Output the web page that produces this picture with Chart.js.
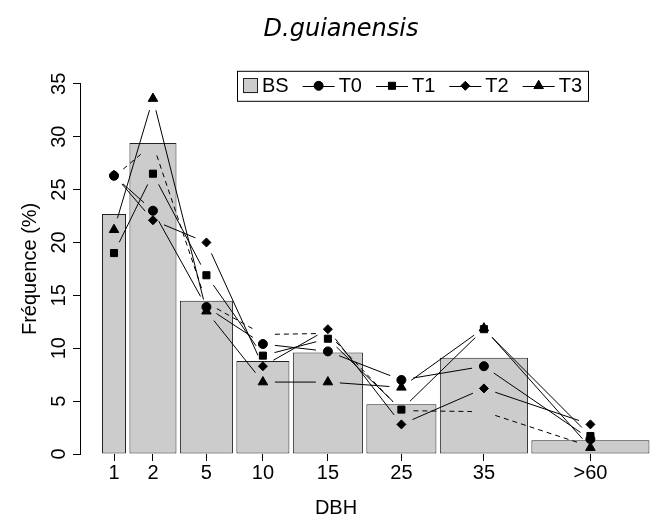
<!DOCTYPE html>
<html>
<head>
<meta charset="utf-8">
<script src="https://cdn.jsdelivr.net/npm/chart.js@4.4.1/dist/chart.umd.min.js"></script>
<style>
  html, body { margin: 0; padding: 0; background: #fff; }
</style>
</head>
<body>
<canvas id="chart" width="659" height="523"></canvas>
<script>
// DBH classes and frequencies (%)
const CLASSES = ['1', '2', '5', '10', '15', '25', '35', '>60'];
const BS = [22.7, 29.4, 14.5, 8.8, 9.6, 4.7, 9.1, 1.3];
const T0 = [26.3, 23.0, 13.9, 10.4, 9.7, 7.0, 8.3, 1.4];
const T1 = [19.0, 26.5, 16.9, 9.3, 10.9, 4.2, 11.8, 1.7];
const T2 = [26.4, 22.1, 20.0, 8.3, 11.8, 2.8, 6.2, 2.8];
const T3 = [21.2, 33.6, 13.5, 6.8, 6.8, 6.3, 11.9, 0.6];
const REF = [26.2, 29.3, 14.3, 11.3, 11.4, 4.1, 4.0, 0.7];   // dashed line, not in legend

// relative bar widths of the classes (variable width barplot)
const BIN_WIDTHS = [1, 1.96, 2.21, 2.21, 2.92, 2.92, 3.67, 4.92];
const BIN_GAP = 0.143;

const binLeft = [];
let acc = 0;
BIN_WIDTHS.forEach(w => { binLeft.push(acc); acc += w + BIN_GAP; });
const binCenter = BIN_WIDTHS.map((w, i) => binLeft[i] + w / 2);
const toPoints = vals => vals.map((v, i) => ({ x: binCenter[i], y: v }));

Chart.defaults.font.family = '"Liberation Sans", Arial, sans-serif';
Chart.defaults.color = '#000';

function lineSet(label, data, pointStyle, radius) {
    return {
        type: 'line', label, data: toPoints(data), showLine: false,
        borderColor: '#000', backgroundColor: '#000', borderWidth: 1,
        pointStyle, pointRadius: radius, pointBorderWidth: 1,
        pointBackgroundColor: '#000', pointBorderColor: '#000',
        clip: false, order: 1
    };
}

// stretch each bar to its class width
const binWidthPlugin = {
    id: 'binWidth',
    afterDatasetsUpdate(chart) {
        const xs = chart.scales.x;
        chart.getDatasetMeta(0).data.forEach((bar, i) => {
            const l = xs.getPixelForValue(binLeft[i]);
            const r = xs.getPixelForValue(binLeft[i] + BIN_WIDTHS[i]);
            bar.x = (l + r) / 2;
            bar.width = r - l;
        });
    }
};

// R type = "b": segments between points, stopped short of each point
const gappedLines = {
    id: 'gappedLines',
    afterDatasetsDraw(chart) {
        const ctx = chart.ctx;
        const gap = 12;
        ctx.save();
        ctx.strokeStyle = '#000';
        ctx.lineWidth = 1;
        chart.data.datasets.forEach((d, di) => {
            if (d.type !== 'line') return;
            const pts = chart.getDatasetMeta(di).data;
            ctx.setLineDash(d.borderDash || []);
            for (let i = 1; i < pts.length; i++) {
                const a = pts[i - 1], b = pts[i];
                const dx = b.x - a.x, dy = b.y - a.y;
                const len = Math.hypot(dx, dy);
                if (len <= 2 * gap) continue;
                const ux = dx / len, uy = dy / len;
                ctx.beginPath();
                ctx.moveTo(a.x + ux * gap, a.y + uy * gap);
                ctx.lineTo(b.x - ux * gap, b.y - uy * gap);
                ctx.stroke();
            }
        });
        ctx.restore();
    }
};

// boxed horizontal legend drawn inside the plot, like R's legend(horiz = TRUE)
const boxLegend = {
    id: 'boxLegend',
    afterDraw(chart) {
        const { ctx, chartArea } = chart;
        const sets = chart.data.datasets.filter(d => d.label);
        ctx.save();
        ctx.font = '20px "Liberation Sans", Arial, sans-serif';
        ctx.textBaseline = 'middle';
        const pad = 6, sq = 15, seg = 32, gapItem = 14, gapText = 4;
        let w = pad * 2;
        sets.forEach(d => {
            const tw = ctx.measureText(d.label).width;
            w += (d.type === 'bar' ? sq : gapItem + seg) + gapText + tw;
        });
        const right = chartArea.right - 4, top = chartArea.top - 13, h = 30;
        const left = right - w;
        const cy = top + h / 2;
        ctx.fillStyle = '#fff';
        ctx.fillRect(left, top, w, h);
        ctx.strokeStyle = '#000';
        ctx.lineWidth = 1;
        ctx.strokeRect(Math.round(left) + 0.5, top + 0.5, Math.round(w), h);
        let x = left + pad;
        sets.forEach(d => {
            if (d.type === 'bar') {
                ctx.fillStyle = d.backgroundColor;
                ctx.fillRect(x, cy - sq / 2, sq, sq);
                ctx.strokeStyle = d.borderColor;
                ctx.strokeRect(Math.round(x) + 0.5, Math.round(cy - sq / 2) + 0.5, sq - 1, sq - 1);
                x += sq;
            } else {
                x += gapItem;
                ctx.strokeStyle = '#000';
                ctx.beginPath();
                ctx.moveTo(x, Math.round(cy) + 0.5);
                ctx.lineTo(x + seg, Math.round(cy) + 0.5);
                ctx.stroke();
                ctx.fillStyle = '#000';
                Chart.helpers.drawPoint(ctx, { pointStyle: d.pointStyle, radius: d.pointRadius, rotation: 0, borderWidth: 1 }, x + seg / 2, cy);
                x += seg;
            }
            x += gapText;
            ctx.fillStyle = '#000';
            ctx.textAlign = 'left';
            ctx.fillText(d.label, x, cy + 1);
            x += ctx.measureText(d.label).width;
        });
        ctx.restore();
    }
};

new Chart(document.getElementById('chart'), {
    type: 'line',
    data: {
        datasets: [
            {
                type: 'bar', label: 'BS', data: toPoints(BS),
                backgroundColor: '#cccccc', borderColor: '#222222', borderWidth: 1,
                borderSkipped: false, clip: false, order: 2
            },
            lineSet('T0', T0, 'circle', 4.5),
            lineSet('T1', T1, 'rect', 5),
            lineSet('T2', T2, 'rectRot', 4.5),
            lineSet('T3', T3, 'triangle', 5.5),
            {
                type: 'line', label: '', data: toPoints(REF), showLine: false,
                borderColor: '#000', borderWidth: 1, borderDash: [5, 4],
                pointRadius: 0, clip: false, order: 1
            }
        ]
    },
    options: {
        responsive: false,
        animation: false,
        events: [],
        layout: { padding: { left: 23, right: 0, top: 0, bottom: 0 } },
        plugins: {
            legend: { display: false },
            tooltip: { enabled: false },
            title: {
                display: true, text: 'D.guianensis', color: '#000',
                font: { family: '"DejaVu Sans", sans-serif', style: 'italic', weight: 'normal', size: 24 },
                padding: { top: 15, bottom: 40 }
            }
        },
        scales: {
            x: {
                type: 'linear', min: -0.917, max: 20.417, offset: false,
                afterBuildTicks: s => { s.ticks = binCenter.map(v => ({ value: v })); },
                ticks: {
                    autoSkip: false, maxRotation: 0, padding: 0, font: { size: 20 },
                    callback: (v, i) => CLASSES[i]
                },
                grid: { offset: false, drawOnChartArea: false, tickLength: 7, color: '#000' },
                border: { display: false },
                title: { display: true, text: 'DBH', font: { size: 20 }, padding: { top: 11, bottom: 3 } }
            },
            y: {
                min: 0, max: 35,
                afterFit: s => { s.width = 57; },
                ticks: { stepSize: 5, minRotation: 90, maxRotation: 90, crossAlign: 'center', padding: 2, font: { size: 20 } },
                grid: { drawOnChartArea: false, tickLength: 7, color: '#000' },
                border: { display: true, color: '#000' },
                title: { display: true, text: 'Fréquence (%)', font: { size: 20 }, padding: { top: -5, bottom: 0 } }
            },
            yR: {
                type: 'linear', position: 'right',
                afterFit: s => { s.width = 67; },
                ticks: { display: false },
                grid: { display: false },
                border: { display: false }
            }
        }
    },
    plugins: [binWidthPlugin, gappedLines, boxLegend]
});
</script>
</body>
</html>
